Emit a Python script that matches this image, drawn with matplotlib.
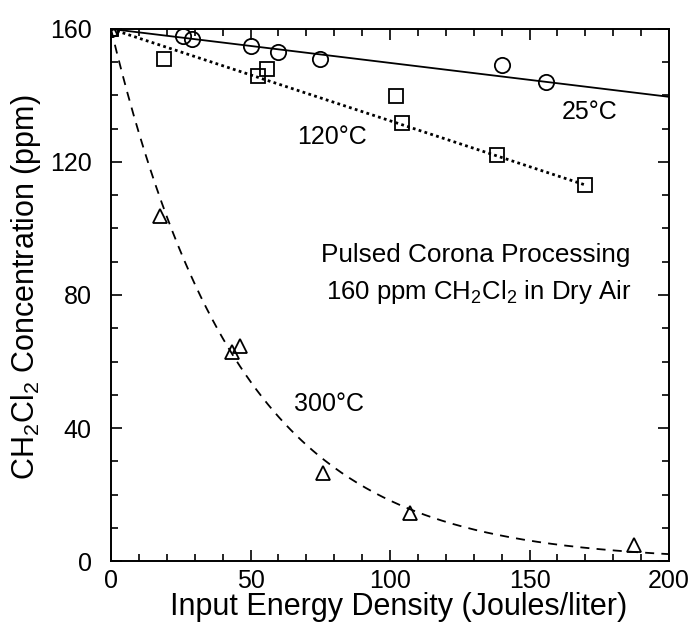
import numpy as np
import matplotlib
matplotlib.use("Agg")
import matplotlib.pyplot as plt
from matplotlib.ticker import MultipleLocator

plt.rcParams['font.family'] = ['Liberation Sans', 'DejaVu Sans']
plt.rcParams['mathtext.default'] = 'regular'

# 25 C data (circles)
x25 = [0, 25.9, 28.9, 50.2, 60.0, 74.9, 140.1, 155.8]
y25 = [160, 157.9, 156.9, 155.0, 153.0, 150.9, 149.2, 144.2]
# 120 C data (squares)
x120 = [0, 19.0, 52.8, 56.0, 102.2, 104.2, 138.2, 169.9]
y120 = [160, 150.9, 145.9, 147.9, 139.8, 131.8, 122.1, 113.1]
# 300 C data (triangles)
x300 = [0, 17.6, 43.2, 46.2, 76.1, 107.2, 187.5]
y300 = [160, 103.8, 62.9, 64.8, 26.6, 14.5, 4.8]

# fitted curve parameters
c0 = 160.0
slope25 = -0.102
slope120 = -0.276
xend120 = 170.0
decay300 = 46.0

xticks = [0, 50, 100, 150, 200]
yticks = [0, 40, 80, 120, 160]

fig = plt.figure(figsize=(6.92, 6.30), dpi=100)
ax = fig.add_axes([0.1604, 0.1095, 0.8064, 0.8445])

xf = np.linspace(0, 200, 200)
ax.plot(xf, c0 + slope25 * xf, '-', color='black', lw=1.3)
xf2 = np.linspace(0, xend120, 200)
ax.plot(xf2, c0 + slope120 * xf2, linestyle=(0, (1, 1.2)), color='black', lw=2.0)
ax.plot(xf, c0 * np.exp(-xf / decay300), linestyle=(0, (5, 4)), color='black', lw=1.3)

mk = dict(mfc='none', mec='black', mew=1.3, linestyle='none')
ax.plot(x25, y25, 'o', ms=11, **mk)
ax.plot(x120, y120, 's', ms=10, **mk)
ax.plot(x300, y300, '^', ms=10.5, **mk)

ax.set_xlim(0, 200)
ax.set_ylim(0, 160)
ax.set_xticks(xticks)
ax.set_yticks(yticks)
ax.xaxis.set_minor_locator(MultipleLocator(10))
ax.yaxis.set_minor_locator(MultipleLocator(10))
ax.tick_params(which='both', direction='in', top=True, right=True, width=1.2)
ax.tick_params(which='major', length=8, labelsize=18)
ax.tick_params(axis='x', which='major', pad=6)
ax.tick_params(axis='y', which='major', pad=14)
ax.tick_params(which='minor', length=5)
for s in ax.spines.values():
    s.set_linewidth(1.4)

ax.set_xlabel('Input Energy Density (Joules/liter)', fontsize=22)
ax.set_ylabel(r'CH$_2$Cl$_2$ Concentration (ppm)', fontsize=22)
ax.xaxis.set_label_coords(0.516, -0.058, transform=ax.transAxes)
ax.yaxis.set_label_coords(-0.122, 0.515, transform=ax.transAxes)

ax.text(171.7, 135.0, '25°C', fontsize=18, ha='center', va='center')
ax.text(79.2, 127.5, '120°C', fontsize=18, ha='center', va='center')
ax.text(78.1, 47.2, '300°C', fontsize=18, ha='center', va='center')
ax.text(130.8, 92.0, 'Pulsed Corona Processing', fontsize=18.8, ha='center', va='center')
ax.text(131.9, 81.0, r'160 ppm CH$_2$Cl$_2$ in Dry Air', fontsize=18.5, ha='center', va='center')

fig.savefig('out.png', dpi=100)
